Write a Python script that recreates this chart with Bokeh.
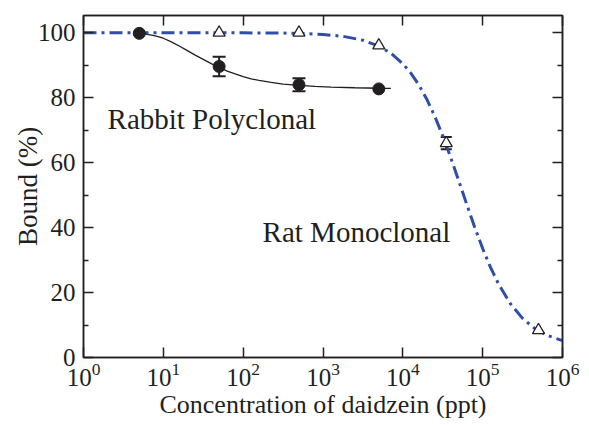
from bokeh.plotting import figure
from bokeh.models import (Range1d, LinearAxis, LogAxis, ColumnDataSource, Whisker,
                          TeeHead, FixedTicker, Label)
from bokeh.embed import file_html
from bokeh.resources import INLINE

# ---- data ----
rabbit_x = [5, 50, 500, 5000]
rabbit_y = [99.8, 89.6, 84.0, 82.7]
rabbit_err = [0.0, 3.0, 2.0, 0.0]

# fitted curve (rabbit polyclonal)
rabbit_fit_x = [5, 6.3, 7.94, 10, 12.6, 15.8, 20, 25.1, 31.6, 39.8, 50.1, 63.1, 79.4, 100,
                126, 158, 224, 316, 501, 794, 1259, 2512, 5012, 7079]
rabbit_fit_y = [99.7, 99.5, 99.0, 98.3, 97.2, 95.9, 94.5, 93.1, 91.8, 90.5, 89.3, 88.2, 87.3,
                86.5, 85.8, 85.3, 84.7, 84.2, 83.8, 83.5, 83.25, 83.05, 82.9, 82.85]

rat_x = [50, 500, 5000, 35000, 500000]
rat_y = [100, 100, 96.1, 66.0, 8.4]
rat_err = [0.0, 0.0, 0.0, 1.9, 0.0]

# fitted curve (rat monoclonal)
rat_fit_x = [1, 10, 100, 316, 562, 1000, 1778, 3162, 5012, 7079, 10000, 12589, 15849, 19953,
             25119, 31623, 39811, 50119, 63096, 79433, 100000, 125893, 158489, 223872, 316228,
             446684, 630957, 1000000]
rat_fit_y = [100, 100, 99.97, 99.88, 99.75, 99.47, 98.89, 97.69, 95.88, 93.69, 90.47, 87.56,
             83.94, 79.52, 74.28, 68.24, 61.55, 54.43, 47.19, 40.13, 33.55, 27.66, 22.56,
             16.47, 12.05, 8.98, 6.90, 5.18]

x_ticks = [1, 10, 100, 1000, 10000, 100000, 1000000]
y_major = [0, 20, 40, 60, 80, 100]
y_minor = [10, 30, 50, 70, 90]

FONT = "Liberation Serif"
INK = "#231f20"
BLUE = "#2f4ea6"

p = figure(width=589, height=425, x_axis_type="log",
           x_range=Range1d(1, 1e6), y_range=Range1d(0, 105.3),
           output_backend="svg", toolbar_location=None,
           min_border_left=83, min_border_right=27, min_border_top=15, min_border_bottom=68)
p.grid.visible = False
p.outline_line_color = INK
p.outline_line_width = 1.5

def style_axis(ax, labels=True):
    ax.axis_line_color = INK
    ax.axis_line_width = 1.5
    ax.major_tick_line_color = INK
    ax.major_tick_line_width = 1.5
    ax.minor_tick_line_color = INK
    ax.minor_tick_line_width = 1.5
    ax.major_tick_in = 10
    ax.major_tick_out = 0
    ax.minor_tick_in = 5
    ax.minor_tick_out = 0
    ax.major_label_text_font = FONT
    ax.major_label_text_color = INK if labels else None
    ax.major_label_text_font_size = "25px" if labels else "1px"
    ax.axis_label_text_font = FONT
    ax.axis_label_text_font_style = "normal"
    ax.axis_label_text_color = INK

xa = p.xaxis[0]
xa.ticker = FixedTicker(ticks=x_ticks, minor_ticks=[])
style_axis(xa)
xa.axis_label = "Concentration of daidzein (ppt)"
xa.axis_label_text_font_size = "26px"
xa.major_label_standoff = 5
xa.axis_label_standoff = 1

ya = p.yaxis[0]
ya.ticker = FixedTicker(ticks=y_major, minor_ticks=y_minor)
style_axis(ya)
ya.axis_label = "Bound (%)"
ya.axis_label_text_font_size = "27px"
ya.major_label_standoff = 8
ya.axis_label_standoff = -8

top = LogAxis(ticker=FixedTicker(ticks=x_ticks, minor_ticks=[]))
style_axis(top, labels=False)
top.major_label_standoff = 0
p.add_layout(top, "above")

right = LinearAxis(ticker=FixedTicker(ticks=y_major, minor_ticks=y_minor))
style_axis(right, labels=False)
right.major_label_standoff = 0
p.add_layout(right, "right")

# curves
p.line(rabbit_fit_x, rabbit_fit_y, line_color=INK, line_width=1.3)
p.line(rat_fit_x, rat_fit_y, line_color=BLUE, line_width=3, line_dash="13 5 3 5")

# error bars
def err_source(xs, ys, es):
    keep = [i for i, e in enumerate(es) if e > 0]
    return ColumnDataSource(dict(x=[xs[i] for i in keep],
                                 lo=[ys[i] - es[i] for i in keep],
                                 hi=[ys[i] + es[i] for i in keep]))

for src, cap in ((err_source(rabbit_x, rabbit_y, rabbit_err), 13),
                 (err_source(rat_x, rat_y, rat_err), 11)):
    w = Whisker(source=src, base="x", lower="lo", upper="hi", dimension="height",
                line_color=INK, line_width=2,
                upper_head=TeeHead(size=cap, line_color=INK, line_width=2),
                lower_head=TeeHead(size=cap, line_color=INK, line_width=2))
    p.add_layout(w)

# markers
p.scatter(rabbit_x, rabbit_y, marker="circle", size=12, fill_color=INK, line_color=INK)
p.scatter(rat_x, rat_y, marker="triangle", size=12, fill_color="white", line_color=INK, line_width=1.3)

# labels
p.add_layout(Label(x=2.0, y=73.5, text="Rabbit Polyclonal", text_font=FONT,
                   text_font_size="29px", text_color=INK, text_baseline="alphabetic"))
p.add_layout(Label(x=175, y=38.5, text="Rat Monoclonal", text_font=FONT,
                   text_font_size="29px", text_color=INK, text_baseline="alphabetic"))

open("out.html", "w").write(file_html(p, INLINE))
